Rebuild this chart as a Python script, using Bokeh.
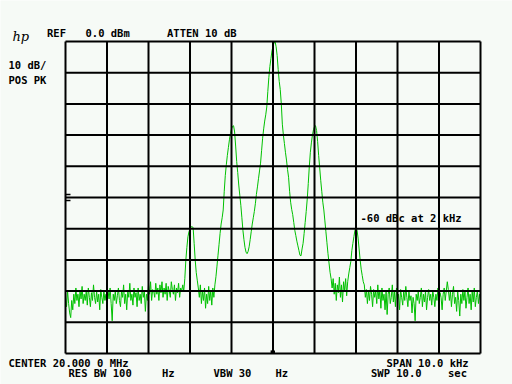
import numpy as np
from bokeh.plotting import figure
from bokeh.models import Label, Range1d
from bokeh.embed import file_html
from bokeh.resources import INLINE

# ---- Data: spectrum analyzer sweep, offset from 20.000 0 MHz in kHz (span 10 kHz), level in dBm
noise_lo = [-82, -85, -80, -84, -87, -88.5, -83, -86, -81, -84,
            -79, -83, -81, -85, -80, -82.5, -78.5, -84, -81, -83,
            -80, -84.5, -79, -82, -85, -80.5, -83, -78, -82, -84,
            -80, -83.5, -81, -86, -79.5, -82, -84, -80, -83, -81,
            -85, -80, -82.5, -79, -84, -89.5, -81, -83, -80, -84,
            -81.5, -79, -83, -85, -80, -82, -78, -84, -81, -86,
            -80, -82, -77.5, -83, -81, -84.5, -79, -82, -80.5, -85,
            -79, -83, -81, -84, -78.5, -82, -80, -86.5, -81, -83,
            -78, -81, -77, -83, -79.5, -80, -82, -77.5, -81, -79,
            -83, -78, -80.5, -77, -82, -79, -81, -77.5, -83, -78.5,
            -80, -82, -77, -79.5, -81, -78, -83, -79, -80.5, -77.5,
            -82, -79, -80, -78]
sideband_lo2 = [-80, -76, -70, -66, -62.6, -61, -60, -59.4, -59.4, -59.6, -64.7, -70, -74, -76.5]
noise_mid1 = [-79, -82, -78, -84, -80, -83, -79, -85.5, -81, -84, -78.5, -83, -80, -84.5, -79, -82, -78]
carrier_band = [-75.4, -72, -68.5, -65, -61.5, -58.5, -56.5, -54, -48, -43,
                -39.5, -36.5, -34, -31.5, -29.5, -28, -27.2, -27, -29, -33.5,
                -38.5, -42, -46, -49.3, -52.5, -56.5, -60.5, -63.5, -66, -67.5,
                -68, -67.3, -65.8, -63.5, -61, -58.5, -56.5, -54.5, -52, -49,
                -46.6, -44, -41.5, -39, -35, -31, -28, -25.5, -23.5, -21,
                -16, -11.5, -8, -5.5, -3, -1.5, -0.5, 0, -1.7, -4.5,
                -9, -12.8, -15.4, -20, -26.5, -30, -32.7, -35.5, -38, -41,
                -43.5, -48, -51.5, -53.8, -55.5, -58, -60.5, -62.2, -64, -65.5,
                -67, -68.5, -68.7, -66.5, -64.7, -61.5, -58, -54.5, -50.5, -45.5,
                -40, -35.5, -32.5, -30, -28.3, -27.3, -27, -28.5, -32, -36.5,
                -40.5, -44.5, -48, -51.5, -54, -57.5, -61, -64.5, -68, -71,
                -74, -76]
noise_mid2 = [-79, -76, -81, -77.5, -83, -78, -80.5, -75.5, -82, -78, -83.5, -77, -80, -76, -81.5, -77, -74.5]
sideband_hi2 = [-72.5, -70.5, -67, -64.7, -62.5, -60.5, -59.6, -60.5, -63, -66.5, -70, -73, -75, -77]
noise_hi = [-78, -82, -79.5, -84, -80, -83, -78.5, -81, -85, -79.5, -82, -80,
            -84, -78, -82.5, -80, -85.5, -79, -83, -81, -86, -80,
            -87.5, -81, -79, -84, -82, -78, -83.5, -80, -85, -79,
            -83, -81, -86, -79.5, -82, -84.5, -80, -83, -78.5, -82,
            -85, -80, -83, -81.5, -87, -82, -84, -89.5, -81, -83,
            -80, -84, -82, -79, -85, -81, -83.5, -80, -86, -82,
            -79.5, -83, -81, -84.5, -80, -82, -85, -81, -83, -79,
            -84, -80.5, -82, -86, -81, -79, -83, -80, -77, -79.5,
            -83, -80, -85, -81, -78.5, -84, -82, -86.5, -80, -83,
            -88, -81, -84, -79.5, -83, -80, -85.5, -82, -79, -84,
            -81, -86, -80, -83.5, -79, -85, -82, -80, -84, -81, -83]

level_dbm = noise_lo + sideband_lo2 + noise_mid1 + carrier_band + noise_mid2 + sideband_hi2 + noise_hi
freq_khz = np.linspace(-5, 5, len(level_dbm))   # sweep points across the span

x_ticks = [-5, -4, -3, -2, -1, 0, 1, 2, 3, 4, 5]
y_ticks = [-100, -90, -80, -70, -60, -50, -40, -30, -20, -10, 0]
ref_mark_db = -50
center_khz = 0

BG = "#f6faf6"
TRACE = "#00c000"
FONT = "DejaVu Sans Mono"

W, H = 512, 384
L, R, T, B = 65, 32, 41, 31          # graticule placement on the screen (pixels)
FW, FH = W - L - R, H - T - B


def fx(px):
    return -5 + (px - L) / FW * 10


def fy(py):
    return -(py - T) / FH * 100


p = figure(width=W, height=H, x_range=Range1d(fx(0), fx(W)), y_range=Range1d(fy(H), fy(0)),
           x_axis_location=None, y_axis_location=None, toolbar_location=None,
           output_backend="svg", min_border=0)
p.background_fill_color = BG
p.border_fill_color = BG
p.outline_line_color = None
p.xgrid.visible = False
p.ygrid.visible = False

p.line(freq_khz, level_dbm, line_color=TRACE, line_width=1)

# graticule
xmin, xmax = x_ticks[0], x_ticks[-1]
ymin, ymax = y_ticks[0], y_ticks[-1]
p.segment(x0=x_ticks, x1=x_ticks, y0=[ymin] * len(x_ticks), y1=[ymax] * len(x_ticks),
          line_color="black", line_width=2)
p.segment(x0=[xmin] * len(y_ticks), x1=[xmax] * len(y_ticks), y0=y_ticks, y1=y_ticks,
          line_color="black", line_width=2)

# reference level / center markers
p.segment(x0=[xmin, xmin], x1=[xmin + 0.12, xmin + 0.12],
          y0=[ref_mark_db + 0.95, ref_mark_db - 0.95], y1=[ref_mark_db + 0.95, ref_mark_db - 0.95],
          line_color="black", line_width=1.5)
p.segment(x0=[center_khz - 0.04, center_khz + 0.03], x1=[center_khz - 0.04, center_khz + 0.03],
          y0=[ymin, ymin], y1=[ymin + 1, ymin + 1], line_color="black", line_width=1.5)

texts = [
    ("REF", 46.5, 32.5),
    ("0.0 dBm", 85, 32.5),
    ("ATTEN 10 dB", 166.5, 32.5),
    ("10 dB/", 8, 64.5),
    ("POS PK", 8, 79),
    ("CENTER 20.000 0 MHz", 8, 362),
    ("RES BW 100", 68, 372.5),
    ("Hz", 161.5, 372.5),
    ("VBW 30", 213, 372.5),
    ("Hz", 275, 372.5),
    ("SPAN 10.0 kHz", 386, 362),
    ("SWP 10.0", 370.5, 372.5),
    ("sec", 447.5, 372.5),
    ("-60 dBc at 2 kHz", 360, 217),
]
for t, x, y in texts:
    p.add_layout(Label(x=fx(x), y=fy(y), text=t, text_font=FONT, text_font_size="10.5px",
                       text_font_style="bold", text_color="black",
                       text_baseline="alphabetic", text_align="left"))

p.add_layout(Label(x=fx(12), y=fy(35.5), text="hp", text_font="DejaVu Serif",
                   text_font_size="13px", text_font_style="italic", text_color="black",
                   text_baseline="alphabetic", text_align="left"))

open("out.html", "w").write(file_html(p, INLINE))
